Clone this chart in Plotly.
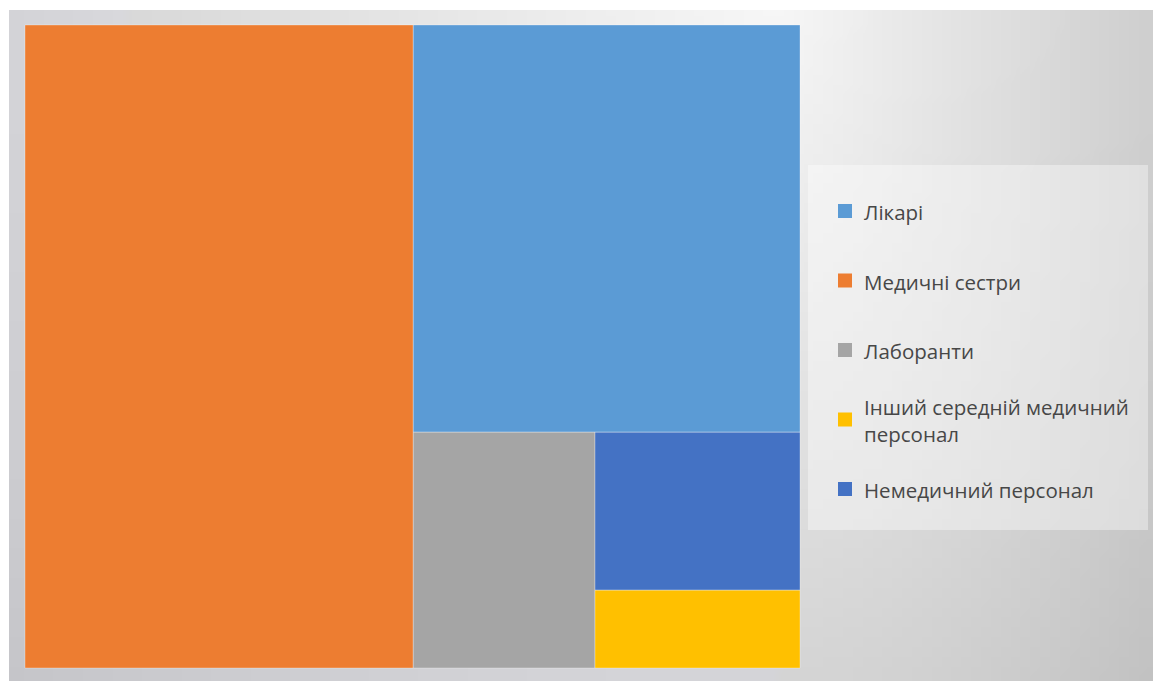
import base64, struct, zlib
import plotly.graph_objects as go

# ---- data ----
categories = ["Лікарі", "Медичні сестри", "Лаборанти",
              "Інший середній медичний персонал", "Немедичний персонал"]
legend_labels = ["Лікарі", "Медичні сестри", "Лаборанти",
                 "Інший середній медичний<br>персонал", "Немедичний персонал"]
values = [31.6, 50.1, 8.6, 3.2, 6.5]
colors = ["#5B9BD5", "#ED7D31", "#A5A5A5", "#FFC000", "#4472C4"]

W, H = 1153, 681


def px(x):
    return x / W


def py(y):
    return 1 - y / H


# ---- background gradient image (pure-python PNG) ----
def make_png(w, h, fn):
    raw = b""
    for j in range(h):
        row = b"\x00"
        for i in range(w):
            r, g, b = fn(i / (w - 1), j / (h - 1))
            row += bytes((r, g, b))
        raw += row

    def chunk(t, d):
        c = struct.pack(">I", len(d)) + t + d
        return c + struct.pack(">I", zlib.crc32(t + d) & 0xffffffff)

    png = b"\x89PNG\r\n\x1a\n"
    png += chunk(b"IHDR", struct.pack(">IIBBBBB", w, h, 8, 2, 0, 0, 0))
    png += chunk(b"IDAT", zlib.compress(raw, 9))
    png += chunk(b"IEND", b"")
    return "data:image/png;base64," + base64.b64encode(png).decode()


BX0, BY0 = 9, 10  # background panel top-left corner (pixels)


def grad(u, v):
    x = BX0 + u * (W - BX0)
    y = BY0 + v * (H - BY0)
    ax = (x - 780) / 520 if x > 780 else (780 - x) / 1200
    ay = y / 1100
    d = min(1.0, (ax * ax + ay * ay) ** 0.5)
    g = int(247 - 55 * d)
    b = g + 4 if (x < 780 and d > 0.55) else g
    return g, g, min(255, b)


bg = make_png(116, 68, grad)

fig = go.Figure()

fig.add_trace(go.Treemap(
    labels=categories,
    parents=[""] * len(categories),
    values=values,
    marker=dict(colors=colors, line=dict(width=1, color="rgba(255,255,255,0.3)"),
                pad=dict(t=0, l=0, r=0, b=0)),
    tiling=dict(packing="squarify", pad=0),
    pathbar=dict(visible=False),
    textinfo="none",
    sort=True,
    domain=dict(x=[px(25), px(800)], y=[py(668), py(25)]),
    hoverinfo="label+value",
))

# ---- legend (built from the category list) ----
shapes = [dict(type="rect", xref="paper", yref="paper", layer="below",
               x0=px(808), x1=px(1148), y0=py(530), y1=py(165),
               fillcolor="rgba(255,255,255,0.38)", line=dict(width=0))]
annotations = []
leg_y0, leg_step = 211, 69.5
mk_x, mk_half, txt_x = 845, 7, 862
for i, (lab, col) in enumerate(zip(legend_labels, colors)):
    yc = leg_y0 + i * leg_step
    shapes.append(dict(type="rect", xref="paper", yref="paper",
                       x0=px(mk_x - mk_half), x1=px(mk_x + mk_half),
                       y0=py(yc + mk_half), y1=py(yc - mk_half),
                       fillcolor=col, line=dict(width=0)))
    annotations.append(dict(text=lab, xref="paper", yref="paper",
                            x=px(txt_x), y=py(yc + 1), xanchor="left", yanchor="middle",
                            align="left", showarrow=False,
                            font=dict(family="Open Sans", size=20.5, color="#474747")))

fig.update_layout(
    width=W, height=H,
    margin=dict(l=0, r=0, t=0, b=0),
    paper_bgcolor="white",
    images=[dict(source=bg, xref="paper", yref="paper",
                 x=px(BX0), y=py(BY0), sizex=1 - px(BX0), sizey=1 - BY0 / H,
                 xanchor="left", yanchor="top", sizing="stretch", layer="below")],
    shapes=shapes,
    annotations=annotations,
    showlegend=False,
)

fig.write_html("out.html",
               config={"displayModeBar": False},
               post_script="document.body.style.margin='0';"
                           "document.body.style.overflow='hidden';")
